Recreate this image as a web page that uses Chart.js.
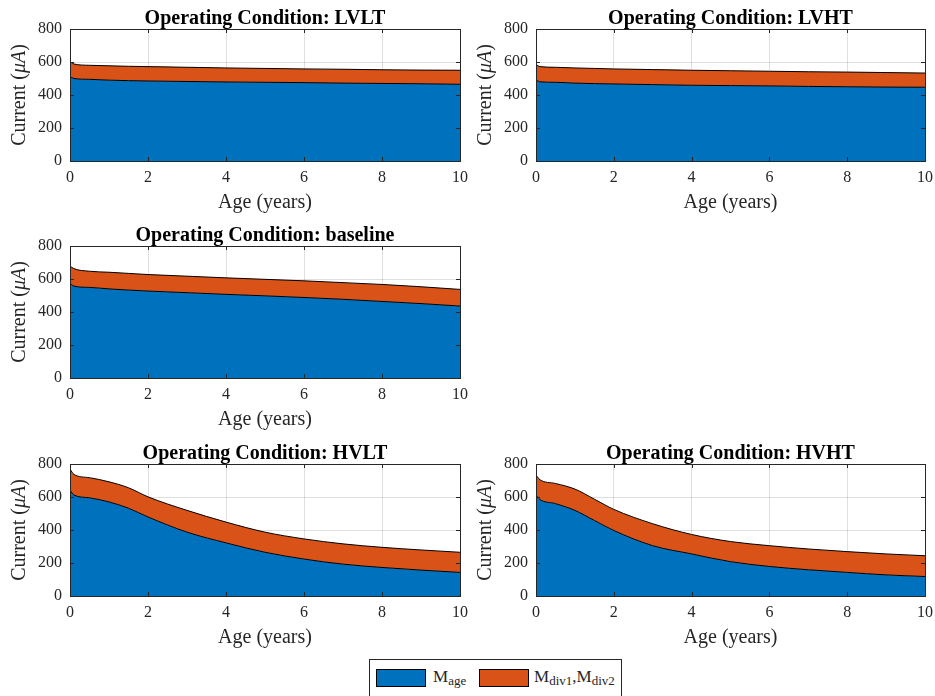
<!DOCTYPE html>
<html>
<head>
<meta charset="utf-8">
<script src="https://cdn.jsdelivr.net/npm/chart.js@4.4.1/dist/chart.umd.min.js"></script>
<style>
  body { margin: 0; background: #fff; width: 935px; height: 696px; overflow: hidden; position: relative; }
  canvas { position: absolute; }
  #legend {
    position: absolute; left: 369px; top: 659px; width: 253px; height: 40px;
    border: 1px solid #262626; box-sizing: border-box; background: #fff;
    font-family: "Liberation Serif", "Times New Roman", serif; font-size: 17px; color: #262626;
  }
  #legend .sw { position: absolute; top: 9px; width: 50px; height: 18px; border: 1px solid #000; box-sizing: border-box; }
  #legend .lb { position: absolute; top: 7px; white-space: nowrap; }
  #legend sub { font-size: 13px; vertical-align: -3px; line-height: 0; }
</style>
</head>
<body>
<canvas id="c1" width="470" height="220" style="left:0;top:0"></canvas>
<canvas id="c2" width="469" height="220" style="left:466px;top:0"></canvas>
<canvas id="c3" width="470" height="220" style="left:0;top:217px"></canvas>
<canvas id="c4" width="470" height="220" style="left:0;top:435px"></canvas>
<canvas id="c5" width="469" height="220" style="left:466px;top:435px"></canvas>
<div id="legend">
  <div class="sw" style="left:6px;background:#0072BD"></div>
  <div class="lb" style="left:63px">M<sub>age</sub></div>
  <div class="sw" style="left:109px;background:#D95319"></div>
  <div class="lb" style="left:164px">M<sub>div1</sub>,M<sub>div2</sub></div>
</div>
<script>
// age axis (years)
var ages = [0, 0.1, 0.5, 1, 1.5, 2, 3, 4, 5, 6, 7, 8, 9, 10];

// M_age (blue) and M_div1,M_div2 (orange, stacked on top) in uA
var lvltAge = [512, 500, 495, 490, 487, 485, 482, 479, 477, 475, 472, 470, 468, 465];
var lvltDiv = [91, 88, 85, 87, 87, 87, 86, 85, 84, 83, 84, 83, 83, 85];

var lvhtAge = [492, 480, 477, 472, 469, 467, 463, 459, 457, 455, 452, 450, 448, 447];
var lvhtDiv = [93, 92, 91, 92, 92, 91, 91, 91, 90, 89, 89, 89, 88, 86];

var baseAge = [575, 557, 549, 540, 533, 527, 517, 507, 498, 488, 477, 464, 451, 436];
var baseDiv = [104, 106, 98, 101, 101, 100, 100, 100, 100, 101, 101, 103, 102, 101];

var hvltAge = [641, 612, 595, 570, 532, 479, 387, 322, 265, 224, 193, 173, 157, 143];
var hvltDiv = [129, 125, 122, 122, 124, 122, 132, 126, 122, 122, 123, 122, 122, 122];

var hvhtAge = [612, 585, 560, 519, 458, 397, 305, 255, 208, 179, 159, 143, 128, 118];
var hvhtDiv = [121, 120, 122, 129, 129, 128, 133, 118, 122, 126, 126, 126, 127, 126];

var xTicks = [0, 2, 4, 6, 8, 10];
var yTicks = [0, 200, 400, 600, 800];

var FONT = '"Liberation Serif", "Times New Roman", serif';
var AXIS = '#262626';
Chart.defaults.font.family = FONT;
Chart.defaults.color = AXIS;

// titel, y-titel (mu A cursief) + kader met ticks naar binnen (zoals matlab)
var framePlugin = {
    id: 'frame',
    afterDatasetsDraw: function (chart) {
        var ctx = chart.ctx;
        var a = chart.chartArea;
        var xs = chart.scales.x, ys = chart.scales.y;
        ctx.save();
        ctx.strokeStyle = AXIS;
        ctx.lineWidth = 1;
        ctx.beginPath();
        xTicks.forEach(function (t) {
            var px = Math.round(xs.getPixelForValue(t)) + 0.5;
            ctx.moveTo(px, a.bottom); ctx.lineTo(px, a.bottom - 4);
            ctx.moveTo(px, a.top); ctx.lineTo(px, a.top + 4);
        });
        yTicks.forEach(function (t) {
            var py = Math.round(ys.getPixelForValue(t)) + 0.5;
            ctx.moveTo(a.left, py); ctx.lineTo(a.left + 4, py);
            ctx.moveTo(a.right, py); ctx.lineTo(a.right - 4, py);
        });
        ctx.stroke();
        ctx.strokeRect(Math.round(a.left) + 0.5, Math.round(a.top) + 0.5,
            Math.round(a.right - a.left), Math.round(a.bottom - a.top));

        ctx.fillStyle = '#000';
        ctx.font = 'bold 20px ' + FONT;
        ctx.textAlign = 'center';
        ctx.textBaseline = 'alphabetic';
        ctx.fillText(chart.options.plugins.frame.text, (a.left + a.right) / 2, a.top - 5);

        // y-as titel
        var delen = [['Current (', '20px '], ['\u03BCA', 'italic 20px '], [')', '20px ']];
        var totaal = 0;
        delen.forEach(function (d) { ctx.font = d[1] + FONT; totaal += ctx.measureText(d[0]).width; });
        ctx.translate(20, (a.top + a.bottom) / 2);
        ctx.rotate(-Math.PI / 2);
        ctx.fillStyle = AXIS;
        ctx.textAlign = 'left';
        ctx.textBaseline = 'middle';
        var pos = -totaal / 2;
        delen.forEach(function (d) {
            ctx.font = d[1] + FONT;
            ctx.fillText(d[0], pos, 0);
            pos += ctx.measureText(d[0]).width;
        });
        ctx.restore();
    }
};

function maakGrafiek(id, titel, ageData, divData) {
    var ctx = document.getElementById(id);
    new Chart(ctx.getContext('2d'), {
        type: 'line',
        data: {
            labels: ages,
            datasets: [{
                label: 'M_age',
                data: ages.map(function (x, i) { return { x: x, y: ageData[i] }; }),
                backgroundColor: '#0072BD',
                borderColor: '#000',
                borderWidth: 1,
                pointRadius: 0,
                fill: 'origin',
                cubicInterpolationMode: 'monotone'
            }, {
                label: 'M_div1,M_div2',
                data: ages.map(function (x, i) { return { x: x, y: divData[i] }; }),
                backgroundColor: '#D95319',
                borderColor: '#000',
                borderWidth: 1,
                pointRadius: 0,
                fill: '-1',
                cubicInterpolationMode: 'monotone'
            }]
        },
        options: {
            responsive: false,
            animation: false,
            devicePixelRatio: 1,
            layout: { padding: { top: 29, right: 10, left: 0, bottom: 0 } },
            plugins: {
                legend: { display: false },
                tooltip: { enabled: false },
                frame: { text: titel }
            },
            scales: {
                x: {
                    type: 'linear', min: 0, max: 10,
                    afterFit: function (s) { s.height = 59; s.paddingLeft = 0; s.paddingRight = 0; },
                    afterBuildTicks: function (s) { s.ticks = xTicks.map(function (v) { return { value: v }; }); },
                    grid: { color: 'rgba(38,38,38,0.15)', drawTicks: false },
                    border: { display: false },
                    ticks: { font: { size: 16 }, padding: 7, color: AXIS, maxRotation: 0 },
                    title: { display: true, text: 'Age (years)', font: { size: 20 }, padding: { top: 0, bottom: 5 }, color: AXIS }
                },
                y: {
                    type: 'linear', min: 0, max: 800, stacked: true,
                    afterFit: function (s) { s.width = 70; s.paddingTop = 0; s.paddingBottom = 0; },
                    afterBuildTicks: function (s) { s.ticks = yTicks.map(function (v) { return { value: v }; }); },
                    grid: { color: 'rgba(38,38,38,0.15)', drawTicks: false },
                    border: { display: false },
                    ticks: { font: { size: 16 }, padding: 8, color: AXIS },
                    title: { display: false }
                }
            }
        },
        plugins: [framePlugin]
    });
}

maakGrafiek('c1', 'Operating Condition: LVLT', lvltAge, lvltDiv);
maakGrafiek('c2', 'Operating Condition: LVHT', lvhtAge, lvhtDiv);
maakGrafiek('c3', 'Operating Condition: baseline', baseAge, baseDiv);
maakGrafiek('c4', 'Operating Condition: HVLT', hvltAge, hvltDiv);
maakGrafiek('c5', 'Operating Condition: HVHT', hvhtAge, hvhtDiv);
</script>
</body>
</html>
